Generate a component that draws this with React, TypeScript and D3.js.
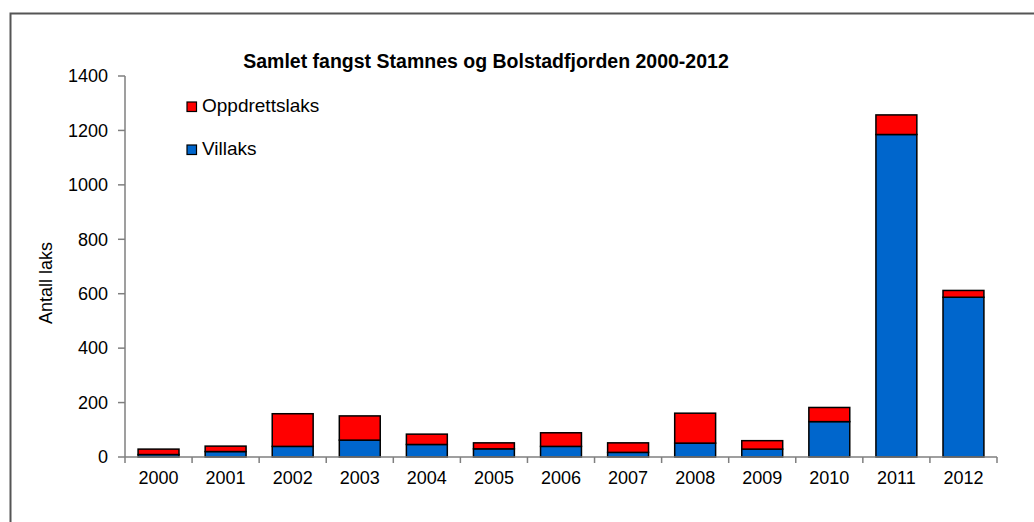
import React from "react";
import * as d3 from "d3";

const years = ["2000","2001","2002","2003","2004","2005","2006","2007","2008","2009","2010","2011","2012"];
const villaks = [9, 20, 39, 62, 46, 30, 39, 17, 51, 29, 130, 1185, 587];
const oppdrettslaks = [20, 20, 120, 89, 38, 22, 50, 35, 110, 31, 52, 72, 25];
const yTicks = [0, 200, 400, 600, 800, 1000, 1200, 1400];
const seriesNames = ["Villaks", "Oppdrettslaks"];
const colors = ["#0066CC", "#FF0000"];
const title = "Samlet fangst Stamnes og Bolstadfjorden 2000-2012";
const yLabel = "Antall laks";

export default function App() {
  const W = 1034, H = 522;
  const left = 125, right = 997, top = 76, bottom = 457;
  const x = d3.scaleBand().domain(years).range([left, right]).paddingInner(0.39).paddingOuter(0.195);
  const y = d3.scaleLinear().domain([0, 1400]).range([bottom, top]);
  const rows = years.map((yr, i) => ({ year: yr, Villaks: villaks[i], Oppdrettslaks: oppdrettslaks[i] }));
  const stacked = d3.stack<any>().keys(seriesNames)(rows);
  const band = (right - left) / years.length;
  const font = "Arial, 'Liberation Sans', sans-serif";
  const axisColor = "#7f7f7f";
  return (
    <svg width={W} height={H} style={{ position: "absolute", left: 0, top: 0, background: "#fff" }}>
      <rect x={0} y={0} width={W} height={H} fill="#fff" />
      <path d={`M10.5,${H + 5}V13.5H${W + 5}`} fill="none" stroke="#555" strokeWidth={2} />
      <text x={486} y={68} textAnchor="middle" fontFamily={font} fontWeight="bold" fontSize={19.5} fill="#000">{title}</text>
      {stacked.map((s, si) =>
        s.map((d, i) => (
          <rect key={`${si}-${i}`} x={x(years[i])!} y={y(d[1])} width={x.bandwidth()} height={y(d[0]) - y(d[1])}
            fill={colors[si]} stroke="#000" strokeWidth={1.5} />
        ))
      )}
      <line x1={left} x2={left} y1={top} y2={bottom} stroke={axisColor} strokeWidth={1.5} />
      <line x1={left} x2={right} y1={bottom} y2={bottom} stroke={axisColor} strokeWidth={1.5} />
      {yTicks.map(t => (
        <g key={t}>
          <line x1={left - 7} x2={left} y1={y(t)} y2={y(t)} stroke={axisColor} strokeWidth={1.5} />
          <text x={108} y={y(t)} dy="0.35em" textAnchor="end" fontFamily={font} fontSize={18} fill="#000">{t}</text>
        </g>
      ))}
      {d3.range(years.length + 1).map(i => (
        <line key={i} x1={left + i * band} x2={left + i * band} y1={bottom} y2={bottom + 6} stroke={axisColor} strokeWidth={1.5} />
      ))}
      {years.map(yr => (
        <text key={yr} x={x(yr)! + x.bandwidth() / 2} y={484} textAnchor="middle" fontFamily={font} fontSize={18} fill="#000">{yr}</text>
      ))}
      <text transform="translate(52,283) rotate(-90)" textAnchor="middle" fontFamily={font} fontSize={18} fill="#000">{yLabel}</text>
      {[1, 0].map((si, k) => (
        <g key={si}>
          <rect x={187} y={102 + k * 43} width={9.5} height={9.5} fill={colors[si]} stroke="#000" strokeWidth={1.2} />
          <text x={202} y={112 + k * 43} fontFamily={font} fontSize={19} fill="#000">{seriesNames[si]}</text>
        </g>
      ))}
    </svg>
  );
}
